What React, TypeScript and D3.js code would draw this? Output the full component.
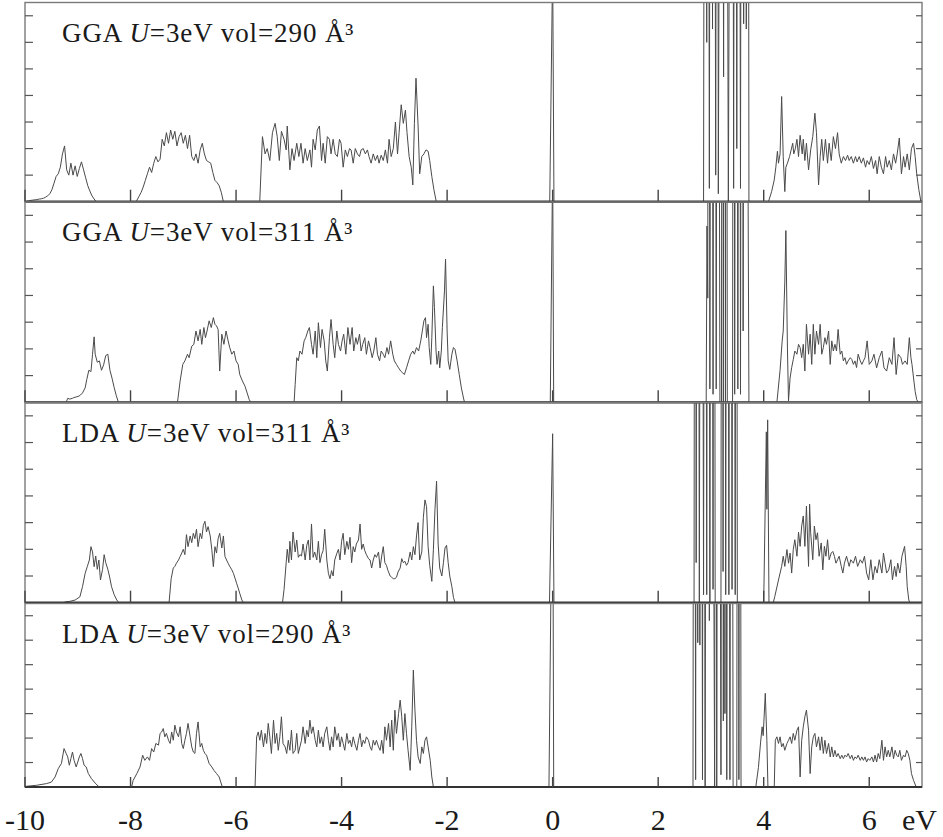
import React from 'react';
import * as d3 from 'd3';

type Pt = [number, number];

// ---------- axis data ----------
const energyDomain: [number, number] = [-10, 7];
const dosDomain: [number, number] = [0, 7.5];
const xTicks = [-10, -8, -6, -4, -2, 0, 2, 4, 6];
const xTickLabels = ['-10', '-8', '-6', '-4', '-2', '0', '2', '4', '6'];
const yTicks = [1, 2, 3, 4, 5, 6, 7];
const unitLabel = 'eV';

const panelMethods = ['GGA', 'GGA', 'LDA', 'LDA'];
const panelVolumes = ['290', '311', '311', '290'];

// ---------- panel 1 : GGA U=3eV vol=290 ----------
const p1BandA: Pt[] = [[-9.97,0.02],[-9.93,0.03],[-9.89,0.05],[-9.85,0.06],[-9.81,0.07],[-9.77,0.08],[-9.73,0.1],[-9.69,0.11],[-9.65,0.13],[-9.61,0.17],[-9.57,0.22],[-9.53,0.3],[-9.49,0.45],[-9.45,0.7],[-9.41,0.95],[-9.37,1.05],[-9.33,1.3],[-9.29,1.8],[-9.25,2.1],[-9.21,1.2],[-9.17,1.0],[-9.13,1.45],[-9.09,1.0],[-9.05,1.35],[-9.01,0.95],[-8.97,1.25],[-8.93,1.5],[-8.89,1.2],[-8.85,0.9],[-8.81,0.6],[-8.77,0.4],[-8.73,0.22],[-8.69,0.1],[-8.65,0]];
const p1BandB: Pt[] = [[-7.9,0],[-7.88,0.05],[-7.84,0.2],[-7.8,0.35],[-7.76,0.55],[-7.72,0.8],[-7.68,1.05],[-7.64,1.3],[-7.6,1.1],[-7.56,1.45],[-7.52,1.7],[-7.48,1.5],[-7.44,1.6],[-7.4,2.35],[-7.36,2.1],[-7.32,2.6],[-7.28,2.2],[-7.24,2.7],[-7.2,2.35],[-7.16,2.65],[-7.12,2.1],[-7.08,2.45],[-7.04,2.6],[-7.0,2.2],[-6.96,2.5],[-6.92,2.0],[-6.88,2.5],[-6.84,1.7],[-6.8,1.55],[-6.76,1.8],[-6.72,1.45],[-6.68,1.95],[-6.64,2.2],[-6.6,1.8],[-6.56,1.55],[-6.52,1.5],[-6.48,1.45],[-6.44,1.1],[-6.4,0.8],[-6.36,0.72],[-6.32,0.6],[-6.28,0.35],[-6.24,0]];
const p1BandC: Pt[] = [[-5.56,0],[-5.55,0.05],[-5.5,2.45],[-5.45,1.8],[-5.41,2.0],[-5.36,1.55],[-5.31,2.6],[-5.26,2.95],[-5.22,2.45],[-5.18,1.55],[-5.14,2.65],[-5.09,2.35],[-5.05,1.95],[-5.03,2.85],[-4.98,1.2],[-4.94,2.0],[-4.9,1.55],[-4.85,2.2],[-4.81,1.7],[-4.77,2.2],[-4.73,1.45],[-4.69,2.0],[-4.65,1.55],[-4.6,1.95],[-4.57,1.3],[-4.54,2.35],[-4.5,1.95],[-4.46,2.7],[-4.42,2.85],[-4.38,1.55],[-4.35,2.2],[-4.31,1.45],[-4.27,2.45],[-4.23,2.35],[-4.2,1.8],[-4.16,2.35],[-4.12,1.8],[-4.08,1.7],[-4.04,2.35],[-4.01,2.2],[-3.97,1.3],[-3.93,1.95],[-3.89,1.7],[-3.85,2.0],[-3.82,1.95],[-3.78,1.45],[-3.74,2.0],[-3.7,1.8],[-3.66,1.7],[-3.63,1.95],[-3.59,2.0],[-3.55,1.8],[-3.51,1.95],[-3.48,1.7],[-3.44,1.45],[-3.4,1.8],[-3.36,1.55],[-3.32,1.75],[-3.29,1.45],[-3.25,1.75],[-3.21,1.55],[-3.17,1.95],[-3.13,1.45],[-3.1,2.35],[-3.06,1.7],[-3.02,2.0],[-2.98,3.0],[-2.94,1.8],[-2.91,2.6],[-2.87,3.65],[-2.83,2.95],[-2.79,3.45],[-2.76,2.6],[-2.72,1.7],[-2.68,1.3],[-2.65,0.63],[-2.62,2.95],[-2.59,4.65],[-2.55,2.85],[-2.52,1.05],[-2.48,1.7],[-2.44,1.8],[-2.4,1.95],[-2.36,1.9],[-2.33,1.55],[-2.29,0.95],[-2.25,0.45],[-2.21,0.05],[-2.19,0]];
const p1Fermi: Pt[] = [[-0.055,0],[0,9],[0.025,0]];
const p1FStates: Pt[] = [[2.86,0],[2.89,40],[2.92,6],[2.94,40],[2.97,0.5],[3.0,40],[3.03,6.5],[3.05,40],[3.09,1],[3.12,40],[3.14,0.3],[3.2,40],[3.24,4.7],[3.27,40],[3.33,0],[3.4,40],[3.43,0.5],[3.46,40],[3.49,2],[3.52,40],[3.56,0.5],[3.59,40],[3.62,6.7],[3.65,40],[3.67,6.5],[3.7,40],[3.72,0]];
const p1BandD: Pt[] = [[4.09,0],[4.15,0.38],[4.2,0.82],[4.23,1.3],[4.26,1.9],[4.28,1.45],[4.31,1.8],[4.34,3.96],[4.37,1.7],[4.4,0.38],[4.42,1.3],[4.45,1.45],[4.49,1.7],[4.52,1.95],[4.55,2.2],[4.57,1.8],[4.6,2.0],[4.63,2.35],[4.66,1.7],[4.69,2.5],[4.73,1.8],[4.75,2.35],[4.78,1.55],[4.81,2.2],[4.85,1.2],[4.89,1.95],[4.93,2.45],[4.97,3.33],[5.0,2.6],[5.04,0.63],[5.07,1.7],[5.1,2.35],[5.13,1.55],[5.17,2.35],[5.21,1.45],[5.24,2.2],[5.28,1.55],[5.32,2.45],[5.36,2.0],[5.4,2.6],[5.43,1.8],[5.47,1.45],[5.51,1.7],[5.55,1.55],[5.59,1.75],[5.62,1.55],[5.66,1.7],[5.7,1.45],[5.74,1.7],[5.77,1.5],[5.81,1.7],[5.85,1.45],[5.89,1.65],[5.93,1.3],[5.96,1.55],[6.0,1.4],[6.04,1.7],[6.08,1.25],[6.12,1.55],[6.15,1.05],[6.19,1.7],[6.23,1.3],[6.27,1.05],[6.31,1.7],[6.34,1.3],[6.38,1.55],[6.42,1.2],[6.46,1.8],[6.5,1.45],[6.53,1.8],[6.57,2.4],[6.61,1.05],[6.65,1.7],[6.68,1.3],[6.72,1.8],[6.76,1.2],[6.8,2.0],[6.84,2.2],[6.87,1.7],[6.9,1.05],[6.94,0.45],[6.98,0]];

// ---------- panel 2 : GGA U=3eV vol=311 ----------
const p2BandA: Pt[] = [[-9.22,0],[-9.19,0.15],[-9.15,0.12],[-9.1,0.15],[-9.07,0.18],[-9.03,0.2],[-8.98,0.23],[-8.95,0.27],[-8.91,0.35],[-8.86,0.54],[-8.83,0.85],[-8.79,1.2],[-8.75,1.15],[-8.72,1.8],[-8.69,2.45],[-8.67,1.8],[-8.63,1.5],[-8.59,1.55],[-8.55,1.2],[-8.51,1.4],[-8.47,1.75],[-8.43,1.8],[-8.39,1.2],[-8.35,0.9],[-8.31,0.55],[-8.27,0.25],[-8.23,0]];
const p2BandB: Pt[] = [[-7.11,0],[-7.06,0.8],[-7.01,1.42],[-6.97,1.55],[-6.92,1.8],[-6.89,1.67],[-6.84,2.1],[-6.8,2.17],[-6.76,2.67],[-6.72,2.3],[-6.68,2.73],[-6.65,2.17],[-6.61,2.8],[-6.58,2.42],[-6.55,2.67],[-6.51,3.05],[-6.47,2.8],[-6.43,3.17],[-6.4,2.92],[-6.37,2.86],[-6.34,2.73],[-6.31,1.17],[-6.27,2.55],[-6.23,2.17],[-6.19,2.67],[-6.15,2.3],[-6.12,2.05],[-6.08,1.8],[-6.04,1.92],[-6.0,1.55],[-5.96,1.42],[-5.93,1.04],[-5.88,0.8],[-5.83,0.6],[-5.79,0.35],[-5.75,0.1],[-5.72,0]];
const p2BandC: Pt[] = [[-4.9,0],[-4.88,0.66],[-4.85,1.67],[-4.82,1.55],[-4.79,1.92],[-4.75,1.8],[-4.71,2.3],[-4.68,2.42],[-4.64,2.67],[-4.61,2.8],[-4.57,2.17],[-4.54,1.8],[-4.5,2.67],[-4.47,1.67],[-4.44,2.98],[-4.4,2.05],[-4.37,2.73],[-4.33,2.3],[-4.3,1.55],[-4.27,1.17],[-4.23,2.42],[-4.2,3.1],[-4.16,2.17],[-4.13,1.67],[-4.09,2.67],[-4.06,2.17],[-4.02,1.92],[-3.99,2.3],[-3.96,2.55],[-3.92,1.8],[-3.88,2.8],[-3.84,2.17],[-3.8,2.8],[-3.77,1.92],[-3.73,2.42],[-3.7,2.17],[-3.66,2.55],[-3.63,1.92],[-3.6,2.17],[-3.56,2.42],[-3.53,1.8],[-3.49,2.3],[-3.46,2.05],[-3.42,1.67],[-3.39,1.92],[-3.35,2.42],[-3.32,1.8],[-3.28,1.55],[-3.25,1.92],[-3.21,1.8],[-3.18,1.67],[-3.14,2.05],[-3.11,1.8],[-3.07,2.3],[-3.03,1.8],[-3.0,1.55],[-2.96,1.42],[-2.92,1.29],[-2.88,1.17],[-2.84,1.1],[-2.81,1.04],[-2.77,1.29],[-2.73,1.55],[-2.69,1.8],[-2.65,1.92],[-2.62,1.8],[-2.58,2.05],[-2.54,1.92],[-2.5,2.3],[-2.47,2.67],[-2.44,3.05],[-2.41,3.17],[-2.39,2.42],[-2.36,2.92],[-2.34,2.05],[-2.31,1.42],[-2.29,2.42],[-2.26,4.36],[-2.24,3.55],[-2.21,1.92],[-2.19,1.42],[-2.16,1.92],[-2.14,1.29],[-2.11,1.92],[-2.09,2.8],[-2.05,4.17],[-2.03,5.36],[-2.0,2.67],[-1.98,1.55],[-1.95,1.23],[-1.91,1.8],[-1.88,2.05],[-1.85,1.98],[-1.81,1.55],[-1.77,1.04],[-1.73,0.54],[-1.69,0.16],[-1.67,0]];
const p2Fermi: Pt[] = [[-0.045,0],[0,9],[0.02,0]];
const p2FStates: Pt[] = [[2.91,0],[2.925,6.6],[2.94,3.9],[2.955,40],[2.98,0.5],[3.01,40],[3.04,0.3],[3.07,40],[3.1,0.5],[3.13,40],[3.17,0],[3.2,0],[3.215,40],[3.235,0],[3.255,40],[3.275,0],[3.29,40],[3.31,0],[3.41,0],[3.43,40],[3.45,0.3],[3.48,40],[3.51,0.5],[3.54,40],[3.56,0.3],[3.59,40],[3.61,2.67],[3.64,40],[3.72,0]];
const p2BandD: Pt[] = [[4.25,0],[4.31,1.2],[4.35,2.3],[4.37,2.67],[4.4,4.5],[4.42,6.43],[4.45,2.0],[4.47,0.05],[4.5,0.91],[4.53,1.3],[4.56,1.6],[4.59,1.92],[4.63,1.8],[4.66,2.17],[4.69,2.05],[4.72,1.67],[4.75,2.17],[4.78,1.17],[4.81,2.92],[4.85,1.8],[4.88,2.55],[4.91,1.42],[4.94,2.92],[4.97,1.8],[5.0,2.67],[5.04,2.17],[5.07,2.92],[5.1,1.8],[5.13,2.05],[5.16,2.42],[5.19,2.17],[5.23,2.67],[5.26,1.42],[5.29,2.3],[5.32,1.92],[5.35,2.17],[5.38,1.92],[5.41,2.73],[5.45,1.8],[5.48,1.92],[5.51,1.55],[5.54,1.67],[5.57,1.42],[5.6,1.55],[5.64,1.67],[5.67,1.6],[5.7,1.42],[5.73,1.55],[5.76,1.3],[5.79,1.8],[5.83,1.55],[5.86,1.42],[5.89,1.55],[5.92,1.67],[5.96,2.3],[6.0,1.42],[6.05,1.55],[6.09,1.8],[6.14,1.29],[6.19,1.67],[6.24,1.92],[6.28,1.29],[6.33,1.17],[6.38,1.67],[6.43,1.42],[6.47,2.42],[6.51,1.04],[6.55,1.8],[6.6,1.67],[6.63,1.42],[6.68,1.55],[6.72,1.42],[6.76,2.42],[6.79,1.67],[6.81,1.42],[6.84,0.91],[6.87,0.41],[6.9,0.1],[6.93,0]];

// ---------- panel 3 : LDA U=3eV vol=311 ----------
const p3BandA: Pt[] = [[-9.26,0],[-9.24,0.03],[-9.15,0.05],[-9.05,0.1],[-8.96,0.22],[-8.91,0.6],[-8.86,1.1],[-8.82,1.35],[-8.78,1.6],[-8.75,2.1],[-8.72,1.9],[-8.69,1.35],[-8.66,1.75],[-8.63,1.25],[-8.6,1.6],[-8.57,0.85],[-8.53,1.25],[-8.5,1.8],[-8.47,1.5],[-8.43,1.25],[-8.4,1.0],[-8.36,0.6],[-8.31,0.3],[-8.26,0.1],[-8.22,0]];
const p3BandB: Pt[] = [[-7.27,0],[-7.23,0.9],[-7.19,1.3],[-7.16,1.36],[-7.13,1.48],[-7.09,1.6],[-7.06,1.73],[-7.03,1.86],[-7.0,2.0],[-6.97,1.8],[-6.94,2.55],[-6.91,2.1],[-6.87,2.5],[-6.84,2.25],[-6.81,2.6],[-6.78,2.4],[-6.75,2.75],[-6.72,2.1],[-6.68,2.6],[-6.65,2.4],[-6.62,2.9],[-6.59,3.05],[-6.56,2.65],[-6.53,2.85],[-6.49,2.5],[-6.46,2.0],[-6.43,1.35],[-6.4,2.1],[-6.37,1.86],[-6.34,2.4],[-6.31,2.6],[-6.27,2.05],[-6.24,2.5],[-6.21,1.73],[-6.18,1.6],[-6.15,1.48],[-6.12,1.36],[-6.08,1.23],[-6.05,1.1],[-6.02,0.92],[-5.99,0.73],[-5.96,0.55],[-5.93,0.35],[-5.89,0.1],[-5.86,0]];
const p3BandC: Pt[] = [[-5.12,0],[-5.09,0.5],[-5.05,1.5],[-5.03,2.0],[-5.0,1.5],[-4.98,2.3],[-4.95,1.6],[-4.92,2.65],[-4.88,1.9],[-4.85,2.35],[-4.82,1.7],[-4.79,1.8],[-4.76,1.75],[-4.73,2.2],[-4.69,1.6],[-4.66,2.15],[-4.63,2.35],[-4.6,1.6],[-4.57,2.95],[-4.54,1.7],[-4.51,1.9],[-4.47,1.6],[-4.44,2.3],[-4.41,1.5],[-4.38,1.8],[-4.35,1.95],[-4.32,2.75],[-4.28,1.6],[-4.25,1.1],[-4.22,0.9],[-4.19,1.2],[-4.16,1.0],[-4.13,1.6],[-4.09,1.85],[-4.06,2.0],[-4.03,1.6],[-4.0,2.3],[-3.97,2.6],[-3.94,1.8],[-3.9,2.3],[-3.87,2.0],[-3.84,2.45],[-3.81,1.5],[-3.78,2.1],[-3.75,1.9],[-3.72,2.2],[-3.68,2.35],[-3.65,2.95],[-3.62,2.0],[-3.59,2.2],[-3.56,1.95],[-3.53,1.8],[-3.49,1.65],[-3.46,1.6],[-3.43,1.3],[-3.4,1.6],[-3.37,1.8],[-3.34,1.7],[-3.3,1.9],[-3.27,1.3],[-3.24,1.75],[-3.21,2.1],[-3.18,1.5],[-3.15,1.4],[-3.12,1.2],[-3.08,1.0],[-3.05,0.95],[-3.02,0.9],[-2.99,0.9],[-2.96,0.95],[-2.93,1.15],[-2.89,1.3],[-2.86,1.65],[-2.83,1.5],[-2.8,1.55],[-2.77,1.4],[-2.74,1.5],[-2.7,1.9],[-2.67,1.6],[-2.64,2.1],[-2.61,1.8],[-2.58,2.5],[-2.55,3.0],[-2.52,1.6],[-2.48,1.9],[-2.45,3.2],[-2.42,3.85],[-2.39,3.6],[-2.36,2.1],[-2.33,1.4],[-2.29,0.8],[-2.26,2.0],[-2.23,3.5],[-2.2,4.55],[-2.17,2.2],[-2.14,1.3],[-2.1,1.0],[-2.07,1.5],[-2.04,2.05],[-2.01,2.15],[-1.98,1.5],[-1.95,1.0],[-1.91,0.6],[-1.88,0.2],[-1.85,0]];
const p3Fermi: Pt[] = [[-0.06,0],[0,6.33],[0.025,0]];
const p3FStates: Pt[] = [[2.68,0],[2.7,40],[2.72,1.5],[2.75,40],[2.78,0],[2.82,40],[2.86,0.3],[2.89,40],[2.92,0.3],[2.95,40],[2.98,0],[3.01,40],[3.04,0.5],[3.06,40],[3.08,0],[3.19,0],[3.21,40],[3.23,1.17],[3.25,40],[3.28,0.3],[3.31,40],[3.34,0.3],[3.37,40],[3.4,0.5],[3.43,40],[3.46,0.3],[3.48,40],[3.5,0]];
const p3Peak4: Pt[] = [[4.0,0],[4.05,6.4],[4.06,3.5],[4.075,6.85],[4.1,0]];
const p3BandD: Pt[] = [[4.18,0],[4.21,0.23],[4.28,0.85],[4.34,1.36],[4.37,1.74],[4.4,1.36],[4.44,1.99],[4.47,1.48],[4.5,1.86],[4.53,1.11],[4.56,1.99],[4.59,2.36],[4.63,1.74],[4.66,2.64],[4.69,2.11],[4.72,2.87],[4.75,3.25],[4.78,2.11],[4.81,3.62],[4.85,1.36],[4.87,3.69],[4.89,2.62],[4.93,1.61],[4.96,2.87],[4.99,2.36],[5.02,2.62],[5.05,1.74],[5.09,2.24],[5.12,1.23],[5.15,2.11],[5.18,1.74],[5.21,2.36],[5.24,1.61],[5.28,1.86],[5.31,1.92],[5.34,1.74],[5.37,1.48],[5.4,1.61],[5.43,1.74],[5.47,1.36],[5.5,1.11],[5.53,1.48],[5.57,1.74],[5.62,1.36],[5.65,1.61],[5.7,1.48],[5.74,1.74],[5.78,1.36],[5.83,1.61],[5.87,1.48],[5.91,1.74],[5.95,1.11],[5.99,0.86],[6.03,1.61],[6.07,0.86],[6.11,1.36],[6.15,1.11],[6.19,1.61],[6.24,1.11],[6.27,1.86],[6.3,1.48],[6.33,1.11],[6.37,1.23],[6.41,1.61],[6.44,0.86],[6.48,1.36],[6.51,0.98],[6.54,1.48],[6.58,1.11],[6.62,1.74],[6.67,2.11],[6.7,1.36],[6.72,0.6],[6.75,0.1],[6.77,0]];

// ---------- panel 4 : LDA U=3eV vol=290 ----------
const p4BandA: Pt[] = [[-9.99,0.02],[-9.97,0.03],[-9.78,0.07],[-9.59,0.14],[-9.5,0.2],[-9.43,0.41],[-9.37,0.75],[-9.31,0.96],[-9.26,1.57],[-9.22,1.37],[-9.19,1.23],[-9.16,0.89],[-9.13,1.16],[-9.1,1.43],[-9.07,1.09],[-9.03,0.82],[-9.0,1.02],[-8.97,1.23],[-8.94,1.37],[-8.91,1.16],[-8.88,0.89],[-8.84,0.82],[-8.8,0.55],[-8.74,0.34],[-8.67,0.16],[-8.61,0.03],[-8.58,0]];
const p4BandB: Pt[] = [[-7.98,0],[-7.95,0.27],[-7.88,0.55],[-7.82,0.82],[-7.77,1.3],[-7.73,1.09],[-7.68,1.23],[-7.64,1.09],[-7.6,1.57],[-7.56,1.43],[-7.52,1.78],[-7.47,1.71],[-7.44,2.19],[-7.41,2.25],[-7.38,2.39],[-7.35,2.05],[-7.32,2.19],[-7.28,1.91],[-7.25,1.78],[-7.22,2.25],[-7.19,1.91],[-7.16,2.53],[-7.13,2.25],[-7.09,2.05],[-7.06,2.46],[-7.03,1.78],[-7.0,1.57],[-6.97,1.91],[-6.94,2.19],[-6.91,2.6],[-6.87,2.05],[-6.84,1.64],[-6.81,1.43],[-6.78,1.37],[-6.75,2.19],[-6.72,2.66],[-6.68,1.64],[-6.65,1.78],[-6.62,1.5],[-6.59,1.37],[-6.56,1.3],[-6.51,0.96],[-6.46,0.82],[-6.42,0.68],[-6.37,0.55],[-6.32,0.41],[-6.29,0.2],[-6.26,0]];
const p4BandC: Pt[] = [[-5.64,0],[-5.61,2.05],[-5.58,2.25],[-5.55,1.91],[-5.52,2.32],[-5.48,1.64],[-5.45,2.19],[-5.42,1.78],[-5.39,2.6],[-5.36,2.05],[-5.33,1.37],[-5.29,2.73],[-5.26,1.78],[-5.23,2.19],[-5.2,1.5],[-5.17,2.05],[-5.14,2.87],[-5.11,1.78],[-5.07,1.64],[-5.04,1.37],[-5.01,1.91],[-4.98,1.5],[-4.95,2.32],[-4.92,1.37],[-4.88,1.5],[-4.85,2.19],[-4.82,1.37],[-4.79,1.64],[-4.76,1.91],[-4.73,2.46],[-4.69,1.78],[-4.66,2.32],[-4.63,2.05],[-4.6,2.73],[-4.57,2.19],[-4.54,2.46],[-4.5,1.91],[-4.47,1.64],[-4.44,2.32],[-4.41,1.78],[-4.38,2.05],[-4.35,1.64],[-4.32,2.19],[-4.28,2.46],[-4.25,1.91],[-4.22,1.5],[-4.19,2.05],[-4.16,1.64],[-4.13,2.46],[-4.09,1.91],[-4.06,2.19],[-4.03,1.64],[-4.0,2.05],[-3.97,1.78],[-3.94,1.5],[-3.9,2.19],[-3.87,1.78],[-3.84,1.91],[-3.81,1.64],[-3.78,2.05],[-3.75,1.78],[-3.71,1.5],[-3.68,1.91],[-3.65,2.19],[-3.62,1.64],[-3.59,1.91],[-3.56,1.78],[-3.53,2.05],[-3.49,1.91],[-3.46,1.64],[-3.43,1.5],[-3.4,1.91],[-3.37,1.71],[-3.34,1.91],[-3.3,1.64],[-3.27,1.5],[-3.24,1.91],[-3.21,1.37],[-3.18,2.46],[-3.15,1.91],[-3.11,2.6],[-3.08,1.64],[-3.05,2.73],[-3.02,1.5],[-2.99,3.14],[-2.96,2.19],[-2.92,3.0],[-2.89,3.55],[-2.86,2.87],[-2.83,1.91],[-2.8,3.0],[-2.77,2.19],[-2.74,1.5],[-2.7,0.68],[-2.67,2.46],[-2.64,4.78],[-2.61,3.14],[-2.58,1.91],[-2.55,1.23],[-2.51,0.96],[-2.48,1.64],[-2.45,1.37],[-2.42,1.91],[-2.39,2.05],[-2.36,1.64],[-2.32,1.09],[-2.29,0.41],[-2.26,0]];
const p4Fermi: Pt[] = [[-0.07,0],[0,15],[0.02,0]];
const p4FStates: Pt[] = [[2.66,0],[2.68,40],[2.71,0.3],[2.73,40],[2.75,5.9],[2.77,40],[2.79,5.8],[2.81,40],[2.84,0.3],[2.86,40],[2.89,0],[2.92,40],[2.97,6.8],[3.0,40],[3.07,0],[3.09,40],[3.11,0],[3.14,40],[3.19,0.5],[3.22,40],[3.235,2.7],[3.25,40],[3.265,3.0],[3.28,40],[3.3,0.3],[3.33,40],[3.36,0.3],[3.39,40],[3.42,0],[3.49,0],[3.51,40],[3.53,0.3],[3.55,40],[3.57,0]];
const p4BandD: Pt[] = [[3.85,0],[3.9,0.8],[3.94,1.8],[3.97,2.46],[3.99,2.1],[4.03,3.83],[4.06,1.91],[4.08,0],[4.2,0],[4.22,1.91],[4.25,2.05],[4.28,1.78],[4.31,2.05],[4.34,1.64],[4.37,1.78],[4.4,1.5],[4.44,1.78],[4.47,1.91],[4.5,2.05],[4.53,1.78],[4.56,2.19],[4.59,1.91],[4.63,2.32],[4.66,2.46],[4.69,0.41],[4.72,1.91],[4.75,2.46],[4.78,2.87],[4.81,3.14],[4.85,2.32],[4.88,0.55],[4.91,1.64],[4.94,2.05],[4.97,2.19],[5.0,1.64],[5.04,2.05],[5.07,1.5],[5.1,2.05],[5.13,1.37],[5.16,1.91],[5.19,1.37],[5.23,1.78],[5.26,1.23],[5.29,1.64],[5.32,1.23],[5.35,1.5],[5.38,1.23],[5.41,1.37],[5.45,1.16],[5.48,1.3],[5.51,1.16],[5.54,1.3],[5.57,1.23],[5.6,1.37],[5.64,1.16],[5.67,1.3],[5.7,1.09],[5.73,1.23],[5.76,1.16],[5.79,1.3],[5.83,1.09],[5.86,1.23],[5.89,1.09],[5.92,1.23],[5.95,1.02],[5.98,1.16],[6.01,1.09],[6.05,1.23],[6.08,1.02],[6.11,1.3],[6.14,1.02],[6.17,1.37],[6.2,1.16],[6.24,1.91],[6.27,1.09],[6.3,1.64],[6.33,1.23],[6.36,1.5],[6.39,1.23],[6.43,1.64],[6.46,1.16],[6.49,1.5],[6.52,1.3],[6.55,1.23],[6.58,1.5],[6.61,1.09],[6.65,1.3],[6.68,1.23],[6.71,1.5],[6.74,1.37],[6.77,1.09],[6.8,0.55],[6.84,0.27],[6.89,0]];

const panelSeries: Pt[][][] = [
  [p1BandA, p1BandB, p1BandC, p1Fermi, p1FStates, p1BandD],
  [p2BandA, p2BandB, p2BandC, p2Fermi, p2FStates, p2BandD],
  [p3BandA, p3BandB, p3BandC, p3Fermi, p3FStates, p3Peak4, p3BandD],
  [p4BandA, p4BandB, p4BandC, p4Fermi, p4FStates, p4BandD],
];

// ---------- layout ----------
const W = 943;
const H = 837;
const plotLeft = 25;
const plotRight = 922;
const panelTops = [2.5, 202, 402.5, 603.5];
const panelBottoms = [201.7, 402.3, 602.7, 787];
const serif = "'Liberation Serif', 'Times New Roman', Times, serif";

export default function App() {
  const x = d3.scaleLinear().domain(energyDomain).range([plotLeft, plotRight]);

  return (
    <svg
      width={W}
      height={H}
      viewBox={`0 0 ${W} ${H}`}
      style={{ position: 'absolute', left: 0, top: 0, background: '#fff' }}
    >
      <rect x={0} y={0} width={W} height={H} fill="#fff" />
      <defs>
        {panelTops.map((top, i) => (
          <clipPath id={`clip-${i}`} key={i}>
            <rect x={plotLeft} y={top} width={plotRight - plotLeft} height={panelBottoms[i] - top} />
          </clipPath>
        ))}
      </defs>
      {panelTops.map((top, i) => {
        const bottom = panelBottoms[i];
        const y = d3.scaleLinear().domain(dosDomain).range([bottom, top]);
        const line = d3
          .line<Pt>()
          .x((d) => x(d[0]))
          .y((d) => y(d[1]));
        const tickLen = i === 3 ? 10 : 12;
        return (
          <g key={i}>
            <g clipPath={`url(#clip-${i})`}>
              {panelSeries[i].map((seg, j) => (
                <path key={j} d={line(seg) || ''} fill="none" stroke="#4a4a4a" strokeWidth={1} strokeLinejoin="round" />
              ))}
            </g>
            <rect
              x={plotLeft}
              y={top}
              width={plotRight - plotLeft}
              height={bottom - top}
              fill="none"
              stroke="#7a7a7a"
              strokeWidth={1.4}
            />
            <line x1={plotLeft} x2={plotRight} y1={bottom} y2={bottom} stroke="#333" strokeWidth={2.2} />
            {yTicks.map((t) => (
              <g key={t}>
                <line x1={plotLeft} x2={plotLeft + 8} y1={y(t)} y2={y(t)} stroke="#555" strokeWidth={1.2} />
                <line x1={plotRight - 6} x2={plotRight} y1={y(t)} y2={y(t)} stroke="#555" strokeWidth={1.2} />
              </g>
            ))}
            {xTicks.map((t) => (
              <line key={t} x1={x(t)} x2={x(t)} y1={bottom} y2={bottom - tickLen} stroke="#444" strokeWidth={1.4} />
            ))}
            <text x={62} y={top + 39} fontFamily={serif} fontSize={27} letterSpacing={0.9} fill="#1a1a1a">
              {panelMethods[i]}{' '}
              <tspan fontStyle="italic">U</tspan>=3eV vol={panelVolumes[i]} Å³
            </text>
          </g>
        );
      })}
      {xTicks.map((t, k) => (
        <text key={t} x={x(t)} y={830} textAnchor="middle" fontFamily={serif} fontSize={30} fill="#1a1a1a">
          {xTickLabels[k]}
        </text>
      ))}
      <text x={937} y={830} textAnchor="end" fontFamily={serif} fontSize={30} fill="#1a1a1a">
        {unitLabel}
      </text>
    </svg>
  );
}
